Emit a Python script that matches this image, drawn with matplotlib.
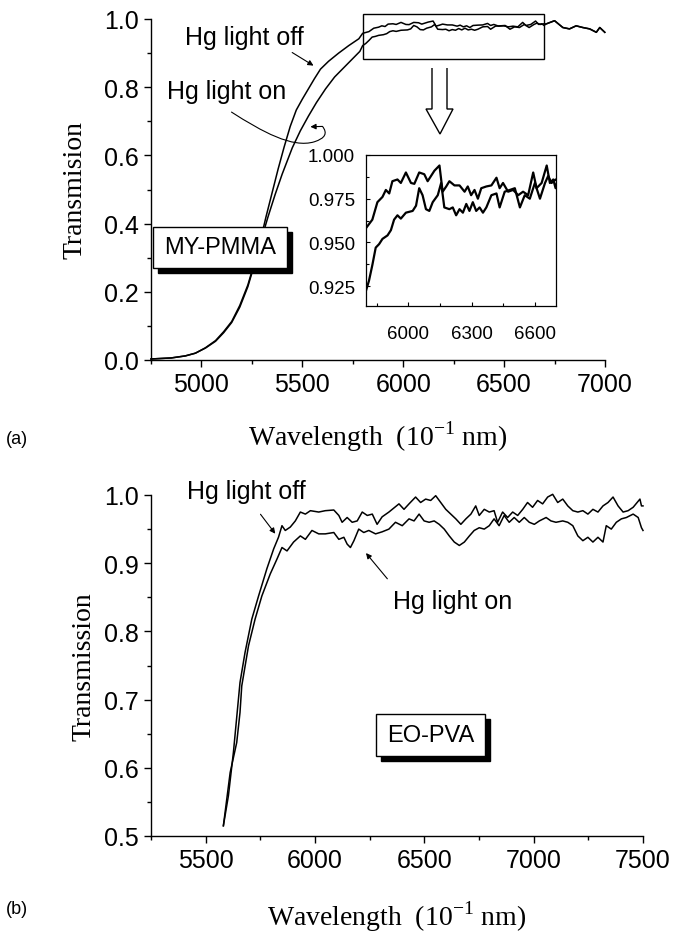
import numpy as np
import matplotlib
matplotlib.use('Agg')
import matplotlib.pyplot as plt
from matplotlib.patches import Rectangle, Polygon, FancyArrowPatch
from matplotlib.path import Path
from matplotlib.ticker import MultipleLocator, FormatStrFormatter

plt.rcParams['font.family'] = 'Liberation Sans'
plt.rcParams['mathtext.fontset'] = 'custom'
plt.rcParams['mathtext.rm'] = 'Liberation Serif'

# ---- data, panel (a): MY-PMMA ----
rise_off_x = [4750, 4850, 4920, 4970, 5020, 5070, 5110, 5150, 5190, 5230, 5260, 5290, 5320, 5350,
              5380, 5410, 5440, 5470, 5500, 5530, 5560, 5590, 5630, 5680, 5730, 5780]
rise_off_y = [0.003, 0.006, 0.012, 0.020, 0.035, 0.055, 0.080, 0.110, 0.155, 0.215, 0.275, 0.345, 0.420, 0.490,
              0.560, 0.625, 0.685, 0.733, 0.765, 0.795, 0.825, 0.853, 0.876, 0.900, 0.922, 0.942]
rise_on_x = [4750, 4850, 4920, 4970, 5020, 5070, 5110, 5150, 5190, 5230, 5265, 5300, 5330, 5365,
             5400, 5450, 5490, 5530, 5570, 5615, 5660, 5710, 5760, 5785]
rise_on_y = [0.003, 0.006, 0.012, 0.020, 0.036, 0.057, 0.083, 0.113, 0.160, 0.220, 0.290, 0.360, 0.420, 0.485,
             0.545, 0.622, 0.672, 0.715, 0.755, 0.795, 0.830, 0.860, 0.890, 0.905]

zoom_off_x = [5799, 5830, 5854, 5878, 5894, 5910, 5925, 5949, 5965, 5989, 6013, 6029, 6052, 6076, 6092,
              6124, 6148, 6163, 6180, 6195, 6219, 6243, 6267, 6282, 6298, 6314, 6330, 6346, 6370, 6394,
              6418, 6433, 6449, 6473, 6497, 6521, 6544, 6568, 6592, 6608, 6632, 6656, 6671, 6687, 6698]
zoom_off_y = [0.958, 0.963, 0.973, 0.976, 0.980, 0.978, 0.985, 0.986, 0.984, 0.990, 0.984, 0.9835, 0.990, 0.989, 0.985,
              0.991, 0.994, 0.979, 0.982, 0.985, 0.9826, 0.9826, 0.979, 0.982, 0.977, 0.980, 0.975, 0.981, 0.982, 0.9826,
              0.987, 0.981, 0.984, 0.979, 0.980, 0.977, 0.979, 0.977, 0.990, 0.981, 0.984, 0.994, 0.984, 0.986, 0.981]
zoom_on_x = [5799, 5814, 5830, 5846, 5862, 5878, 5902, 5918, 5933, 5949, 5965, 5989, 6021, 6037, 6052,
             6068, 6084, 6100, 6116, 6140, 6156, 6171, 6195, 6211, 6227, 6243, 6259, 6275, 6290, 6306,
             6322, 6338, 6354, 6370, 6394, 6418, 6433, 6457, 6481, 6505, 6529, 6552, 6576, 6600, 6624,
             6648, 6663, 6679, 6698]
zoom_on_y = [0.922, 0.928, 0.937, 0.947, 0.949, 0.952, 0.954, 0.957, 0.963, 0.9655, 0.9636, 0.967, 0.968, 0.971, 0.981,
             0.977, 0.969, 0.968, 0.973, 0.977, 0.984, 0.970, 0.969, 0.970, 0.9655, 0.969, 0.967, 0.972, 0.968, 0.973,
             0.968, 0.970, 0.967, 0.970, 0.977, 0.978, 0.970, 0.979, 0.980, 0.981, 0.970, 0.977, 0.975, 0.984, 0.975,
             0.984, 0.988, 0.984, 0.986]
tail_x = [6706, 6750, 6791, 6824, 6857, 6890, 6924, 6957, 6974, 6999]
tail_y = [0.985, 0.995, 0.975, 0.971, 0.980, 0.975, 0.971, 0.961, 0.975, 0.961]

a_off_x = rise_off_x + zoom_off_x + tail_x
a_off_y = rise_off_y + zoom_off_y + tail_y
a_on_x = rise_on_x + zoom_on_x + tail_x
a_on_y = rise_on_y + zoom_on_y + tail_y

# ---- data, panel (b): EO-PVA ----
b_off_x = [5581, 5604, 5627, 5657, 5680, 5711, 5742, 5780, 5811, 5833, 5849, 5864, 5887, 5910, 5933,
           5956, 5979, 6017, 6047, 6086, 6109, 6124, 6147, 6170, 6193, 6216, 6239, 6262, 6284, 6307,
           6338, 6384, 6407, 6430, 6460, 6483, 6506, 6529, 6552, 6575, 6598, 6621, 6644, 6667, 6690,
           6713, 6735, 6751, 6774, 6797, 6819, 6835, 6858, 6881, 6904, 6927, 6950, 6972, 6995, 7018,
           7041, 7064, 7087, 7110, 7133, 7156, 7179, 7202, 7225, 7248, 7271, 7294, 7317, 7340, 7363,
           7386, 7409, 7432, 7455, 7486, 7493, 7500]
b_off_y = [0.515, 0.559, 0.623, 0.725, 0.769, 0.818, 0.852, 0.892, 0.921, 0.938, 0.955, 0.948, 0.953, 0.962, 0.975,
           0.972, 0.977, 0.975, 0.977, 0.978, 0.970, 0.960, 0.967, 0.960, 0.962, 0.975, 0.970, 0.972, 0.957, 0.968,
           0.975, 0.987, 0.979, 0.987, 0.997, 0.989, 0.994, 0.992, 0.999, 0.989, 0.979, 0.972, 0.965, 0.957, 0.965,
           0.972, 0.984, 0.970, 0.979, 0.975, 0.977, 0.960, 0.975, 0.967, 0.975, 0.970, 0.979, 0.989, 0.982, 0.992,
           0.987, 0.997, 1.001, 0.989, 0.994, 0.984, 0.977, 0.975, 0.977, 0.972, 0.979, 0.975, 0.984, 0.989, 0.997,
           0.984, 0.975, 0.977, 0.982, 0.994, 0.984, 0.984]
b_on_x = [5581, 5612, 5642, 5657, 5665, 5696, 5726, 5757, 5795, 5826, 5849, 5872, 5902, 5933, 5956,
          5986, 6017, 6047, 6086, 6109, 6132, 6147, 6162, 6178, 6200, 6223, 6246, 6277, 6307, 6338,
          6368, 6399, 6430, 6453, 6476, 6499, 6522, 6545, 6568, 6591, 6614, 6637, 6660, 6683, 6706,
          6728, 6751, 6774, 6797, 6819, 6842, 6865, 6888, 6911, 6934, 6957, 6980, 7003, 7026, 7057,
          7079, 7102, 7133, 7156, 7179, 7202, 7225, 7248, 7271, 7294, 7317, 7332, 7355, 7378, 7401,
          7424, 7455, 7478, 7493, 7500]
b_on_y = [0.515, 0.593, 0.637, 0.681, 0.720, 0.779, 0.818, 0.852, 0.884, 0.906, 0.923, 0.918, 0.931, 0.940, 0.935,
          0.948, 0.943, 0.943, 0.945, 0.935, 0.938, 0.928, 0.923, 0.933, 0.950, 0.945, 0.948, 0.943, 0.946, 0.950,
          0.960, 0.955, 0.965, 0.962, 0.972, 0.962, 0.960, 0.962, 0.957, 0.950, 0.940, 0.931, 0.926, 0.931, 0.940,
          0.948, 0.952, 0.950, 0.955, 0.965, 0.955, 0.970, 0.960, 0.967, 0.960, 0.967, 0.960, 0.957, 0.962, 0.967,
          0.962, 0.960, 0.962, 0.960, 0.955, 0.940, 0.933, 0.938, 0.931, 0.938, 0.931, 0.955, 0.950, 0.960, 0.965,
          0.967, 0.972, 0.967, 0.952, 0.948]

W, H = 682, 937
fig = plt.figure(figsize=(W / 100, H / 100), dpi=100)


def fx(px):
    return px / W


def fy(py):
    return 1 - py / H


def style_axes(ax):
    ax.spines['top'].set_visible(False)
    ax.spines['right'].set_visible(False)
    for s in ['left', 'bottom']:
        ax.spines[s].set_linewidth(1.0)
    ax.tick_params(which='both', direction='out', labelsize=18, width=1.0)
    ax.tick_params(which='major', length=5, pad=4)
    ax.tick_params(which='minor', length=3)


def shadow_box(x0, y0, x1, y1, label):
    d = 5
    fig.patches.append(Rectangle((fx(x0 + d), fy(y1 + d)), fx(x1 - x0), (y1 - y0) / H,
                                 transform=fig.transFigure, facecolor='black', edgecolor='black'))
    fig.patches.append(Rectangle((fx(x0), fy(y1)), fx(x1 - x0), (y1 - y0) / H,
                                 transform=fig.transFigure, facecolor='white', edgecolor='black', lw=1.0))
    fig.text(fx((x0 + x1) / 2), fy((y0 + y1) / 2), label, ha='center', va='center', fontsize=17)


serif = 'Liberation Serif'
xlab = r'Wavelength  (10$^{\mathregular{-1}}$ nm)'

# ---------------- panel (a) ----------------
ax1 = fig.add_axes([fx(151), fy(361), fx(454), 341 / H])
ax1.plot(a_off_x, a_off_y, color='black', lw=1.1, clip_on=False)
ax1.plot(a_on_x, a_on_y, color='black', lw=1.1, clip_on=False)
ax1.set_xlim(4750, 7000)
ax1.set_ylim(0, 1.0)
ax1.xaxis.set_major_locator(MultipleLocator(500))
ax1.xaxis.set_minor_locator(MultipleLocator(250))
ax1.yaxis.set_major_locator(MultipleLocator(0.2))
ax1.yaxis.set_minor_locator(MultipleLocator(0.1))
ax1.yaxis.set_major_formatter(FormatStrFormatter('%.1f'))
style_axes(ax1)
ax1.set_ylabel('Transmision', family=serif, fontsize=20)
ax1.yaxis.set_label_coords(-0.139, 0.5)
ax1.set_xlabel(xlab, family=serif, fontsize=20)
ax1.xaxis.label.set_va('center')
ax1.xaxis.set_label_coords(0.5, -0.223)

# zoom rectangle
ax1.add_patch(Rectangle((5800, 0.883), 900, 0.132, fill=False, edgecolor='black', lw=1.0, clip_on=False))

ax1.text(5214, 0.947, 'Hg light off', fontsize=18, ha='center', va='center')
ax1.annotate('', xy=(5567, 0.859), xytext=(5438, 0.906),
             arrowprops=dict(arrowstyle='-|>', color='black', lw=0.8, mutation_scale=8))
ax1.text(5124, 0.789, 'Hg light on', fontsize=18, ha='center', va='center')
on_path = Path([(5149, 0.727), (5300, 0.67), (5450, 0.62), (5560, 0.64),
                (5640, 0.655), (5600, 0.685), (5540, 0.684)],
               [Path.MOVETO, Path.CURVE4, Path.CURVE4, Path.CURVE4,
                Path.CURVE3, Path.CURVE3, Path.LINETO])
ax1.add_patch(FancyArrowPatch(path=on_path, arrowstyle='-|>', mutation_scale=8,
                              color='black', lw=0.8, transform=ax1.transData))

# hollow arrow down to inset
arrow_pts = [(fx(432), fy(69)), (fx(432), fy(110)), (fx(426), fy(110)), (fx(440), fy(135)),
             (fx(453), fy(110)), (fx(447), fy(110)), (fx(447), fy(69))]
fig.patches.append(Polygon(arrow_pts, closed=False, fill=False, edgecolor='black', lw=1.0,
                           transform=fig.transFigure))

shadow_box(153, 228, 287, 269, 'MY-PMMA')

# inset
axi = fig.add_axes([fx(366), fy(307), fx(190), 151 / H])
axi.plot(a_off_x, a_off_y, color='black', lw=1.6)
axi.plot(a_on_x, a_on_y, color='black', lw=1.6)
axi.set_xlim(5800, 6700)
axi.set_ylim(0.9136, 1.0)
axi.xaxis.set_major_locator(MultipleLocator(300))
axi.xaxis.set_minor_locator(MultipleLocator(150))
axi.set_yticks([0.925, 0.950, 0.975, 1.000])
axi.yaxis.set_minor_locator(MultipleLocator(0.0125))
axi.yaxis.set_major_formatter(FormatStrFormatter('%.3f'))
axi.tick_params(which='both', direction='in', labelsize=13.5, width=0.8)
axi.tick_params(which='major', length=3, pad=8)
axi.tick_params(axis='x', which='major', pad=14)
axi.tick_params(which='minor', length=2)
for s in axi.spines.values():
    s.set_linewidth(0.9)

# ---------------- panel (b) ----------------
ax2 = fig.add_axes([fx(151), fy(837), fx(492), 341 / H])
ax2.plot(b_off_x, b_off_y, color='black', lw=1.1, clip_on=False)
ax2.plot(b_on_x, b_on_y, color='black', lw=1.1, clip_on=False)
ax2.set_xlim(5250, 7500)
ax2.set_ylim(0.5, 1.0)
ax2.xaxis.set_major_locator(MultipleLocator(500))
ax2.xaxis.set_minor_locator(MultipleLocator(250))
ax2.yaxis.set_major_locator(MultipleLocator(0.1))
ax2.yaxis.set_minor_locator(MultipleLocator(0.05))
ax2.yaxis.set_major_formatter(FormatStrFormatter('%.1f'))
style_axes(ax2)
ax2.set_ylabel('Transmission', family=serif, fontsize=20)
ax2.yaxis.set_label_coords(-0.11, 0.5)
ax2.set_xlabel(xlab, family=serif, fontsize=20)
ax2.xaxis.label.set_va('center')
ax2.xaxis.set_label_coords(0.5, -0.235)

ax2.text(5688, 1.006, 'Hg light off', fontsize=18, ha='center', va='center')
ax2.annotate('', xy=(5826, 0.940), xytext=(5743, 0.975),
             arrowprops=dict(arrowstyle='-|>', color='black', lw=0.8, mutation_scale=8))
ax2.text(6628, 0.845, 'Hg light on', fontsize=18, ha='center', va='center')
ax2.annotate('', xy=(6225, 0.918), xytext=(6339, 0.874),
             arrowprops=dict(arrowstyle='-|>', color='black', lw=0.8, mutation_scale=8))

shadow_box(376, 715, 485, 757, 'EO-PVA')

fig.text(fx(17), fy(440), '(a)', fontsize=13, ha='center', va='center')
fig.text(fx(17), fy(910), '(b)', fontsize=13, ha='center', va='center')

fig.savefig('out.png', dpi=100)
